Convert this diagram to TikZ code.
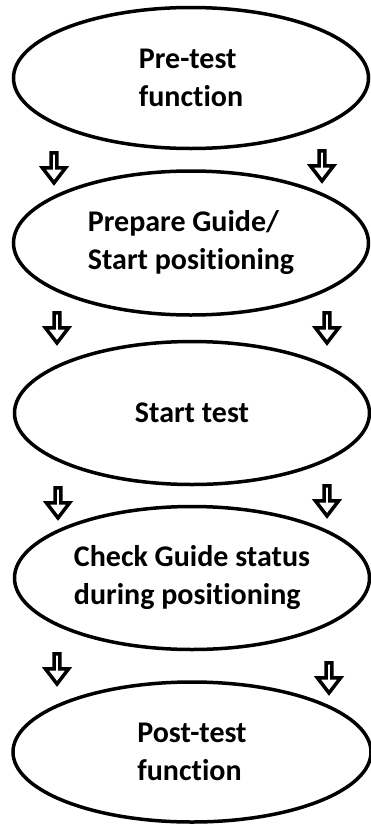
\documentclass[tikz,border=0pt]{standalone}
\usepackage{fontspec}
\setmainfont{Carlito}[RawFeature=-liga]
\usetikzlibrary{shapes.geometric,shapes.arrows}
\begin{document}
\begin{tikzpicture}[x=1pt,y=-1pt,
    stage/.style={ellipse,draw,line width=3.5pt,inner sep=0pt,
      minimum width=355pt,minimum height=141pt,align=left,
      font=\bfseries\fontsize{30}{38}\selectfont},
    blockarrow/.style={single arrow,draw,line width=3.5pt,inner sep=0pt,
      shape border rotate=270,minimum height=30pt,minimum width=23pt,
      single arrow head extend=5pt,single arrow tip angle=75}]
  \fill[white] (0,0) rectangle (371,825);
  \useasboundingbox (0,0) rectangle (371,825);
  \draw
    (191,78) node[stage] (pre){Pre-test\\function}
    (191,243) node[stage,minimum height=144pt] (prep){Prepare Guide/\\Start positioning}
    (192,413) node[stage,minimum height=143pt] (start){Start test}
    (192,578) node[stage,minimum height=143pt] (check){Check Guide status\\during positioning}
    (192,752) node[stage,minimum width=358pt,minimum height=140pt] (post){Post-test\\function};
  \draw
    (54,166) node[blockarrow] (a1){}
    (322,164) node[blockarrow] (b1){}
    (57,326) node[blockarrow] (a2){}
    (327,326) node[blockarrow] (b2){}
    (58,501) node[blockarrow] (a3){}
    (327,499) node[blockarrow] (b3){}
    (57,667) node[blockarrow] (a4){}
    (329,676) node[blockarrow] (b4){};
\end{tikzpicture}
\end{document}
